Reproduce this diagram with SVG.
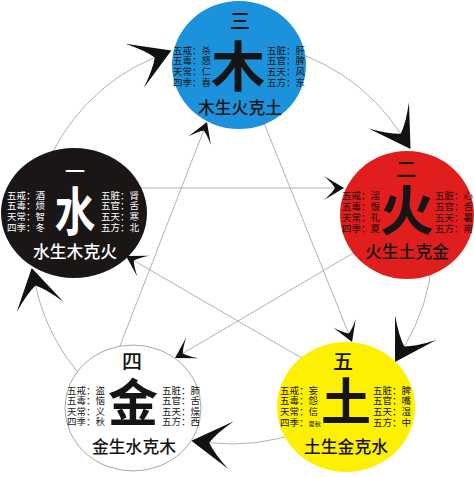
<svg xmlns="http://www.w3.org/2000/svg" width="474" height="477" viewBox="0 0 474 477">
<defs>
<style>
text { font-family: "Liberation Sans", "Noto Sans CJK SC", "Noto Sans CJK JP", sans-serif; }
.lbl { font-size: 9.5px; }
.num { font-size: 20px; font-weight: 500; text-anchor: middle; }
.big { font-weight: 700; text-anchor: middle; }
.cap { font-size: 16.8px; font-weight: 500; text-anchor: middle; }
.arc { fill: none; stroke: #a8a8a8; stroke-width: 0.9; marker-end: url(#ah); }
.ln { fill: none; stroke: #a8a8a8; stroke-width: 0.9; marker-end: url(#as); }
.dk { fill: #151515; }
.wt { fill: #ffffff; }
.fr { fill: #200808; }
.mt { fill: #222222; }
</style>
<marker id="ah" markerUnits="userSpaceOnUse" orient="auto" refX="0" refY="0" markerWidth="60" markerHeight="60" viewBox="-30 -30 60 60" overflow="visible">
<path d="M18,0 L-22,-24 Q-6,-10 0,0 Q-6,10 -22,24 Z" fill="#111"/>
</marker>
<marker id="as" markerUnits="userSpaceOnUse" orient="auto" refX="0" refY="0" markerWidth="30" markerHeight="30" viewBox="-15 -15 30 30" overflow="visible">
<path d="M9,0 L-11,-12 Q-3,-5 0,0 Q-3,5 -11,12 Z" fill="#111"/>
</marker>
</defs>
<rect width="474" height="477" fill="#ffffff"/>
<g id="connectors">
<path class="arc" d="M43.12,174.25 A201,201 0 0 1 154.76,57.43"/>
<path class="arc" d="M266.90,45.05 A201,201 0 0 1 400.76,133.82"/>
<path class="arc" d="M432.23,260.52 A201,201 0 0 1 404.29,346.52"/>
<path class="arc" d="M300.75,431.88 A201,201 0 0 1 209.25,442.71"/>
<path class="arc" d="M82.63,377.50 A201,201 0 0 1 35.54,285.48"/>
<path class="ln" d="M264,123 L348.7,333.6"/>
<path class="ln" d="M138,188 L335,188"/>
<path class="ln" d="M119.5,347 L203.7,130.4"/>
<path class="ln" d="M305,360 L133.8,260.5"/>
<path class="ln" d="M355,252 L182.8,353.4"/>
</g>
<g id="wood">
<ellipse cx="239" cy="65" rx="67" ry="64" fill="#1d92dc"/>
<text class="num dk" x="240" y="29">三</text>
<text class="big dk" x="238" y="86.5" font-size="54">木</text>
<text class="lbl dk" x="173" y="53.6"><tspan x="173">五戒：杀</tspan><tspan x="173" dy="10.7">五毒：怒</tspan><tspan x="173" dy="10.7">天常：仁</tspan><tspan x="173" dy="10.7">四季：春</tspan></text>
<text class="lbl dk" x="267" y="53.6"><tspan x="267">五脏：肝</tspan><tspan x="267" dy="10.7">五官：脾</tspan><tspan x="267" dy="10.7">五天：风</tspan><tspan x="267" dy="10.7">五方：东</tspan></text>
<text class="cap dk" x="240" y="113.5">木生火克土</text>
</g>
<g id="fire">
<ellipse cx="407" cy="215" rx="67" ry="64" fill="#e01e1e"/>
<text class="num dk" x="406" y="177">二</text>
<text class="big dk" x="407" y="231" font-size="54">火</text>
<text class="lbl fr" x="342" y="198.6"><tspan x="342">五戒：淫</tspan><tspan x="342" dy="11.2">五毒：恨</tspan><tspan x="342" dy="11.2">天常：礼</tspan><tspan x="342" dy="11.2">四季：夏</tspan></text>
<text class="lbl fr" x="435" y="198.6"><tspan x="435">五脏：心</tspan><tspan x="435" dy="11.2">五官：舌</tspan><tspan x="435" dy="11.2">五天：暑</tspan><tspan x="435" dy="11.2">五方：南</tspan></text>
<text class="cap dk" x="407" y="258">火生土克金</text>
</g>
<g id="earth">
<ellipse cx="346" cy="407" rx="69" ry="65" fill="#fdf002"/>
<text class="num dk" x="343" y="369">五</text>
<text class="big dk" x="346" y="420" font-size="50">土</text>
<text class="lbl dk" x="280" y="393.6"><tspan x="280">五戒：妄</tspan><tspan x="280" dy="10.7">五毒：怨</tspan><tspan x="280" dy="10.7">天常：信</tspan><tspan x="280" dy="10.7">四季：<tspan font-size="6.2">夏秋</tspan></tspan></text>
<text class="lbl dk" x="373" y="393.6"><tspan x="373">五脏：脾</tspan><tspan x="373" dy="10.7">五官：嘴</tspan><tspan x="373" dy="10.7">五天：湿</tspan><tspan x="373" dy="10.7">五方：中</tspan></text>
<text class="cap dk" x="346" y="453">土生金克水</text>
</g>
<g id="metal">
<ellipse cx="133" cy="408" rx="68" ry="63" fill="#ffffff" stroke="#a8a8a8" stroke-width="1"/>
<text class="num dk" x="132" y="369">四</text>
<text class="big dk" x="133" y="421" font-size="50">金</text>
<text class="lbl mt" x="67" y="393.6"><tspan x="67">五戒：盗</tspan><tspan x="67" dy="10.6">五毒：恼</tspan><tspan x="67" dy="10.6">天常：义</tspan><tspan x="67" dy="10.6">四季：秋</tspan></text>
<text class="lbl mt" x="162" y="393.6"><tspan x="162">五脏：肺</tspan><tspan x="162" dy="10.6">五官：舌</tspan><tspan x="162" dy="10.6">五天：燥</tspan><tspan x="162" dy="10.6">五方：西</tspan></text>
<text class="cap dk" x="134" y="453">金生水克木</text>
</g>
<g id="water">
<ellipse cx="74" cy="213" rx="73" ry="65" fill="#1a1616"/>
<text class="num wt" x="75" y="179">一</text>
<text class="big wt" font-size="52" font-weight="500" transform="translate(75,231) scale(0.78,1)" x="0" y="0">水</text>
<text class="lbl wt" x="7" y="198.6"><tspan x="7">五戒：酒</tspan><tspan x="7" dy="10.7">五毒：烦</tspan><tspan x="7" dy="10.7">天常：智</tspan><tspan x="7" dy="10.7">四季：冬</tspan></text>
<text class="lbl wt" x="101" y="198.6"><tspan x="101">五脏：肾</tspan><tspan x="101" dy="10.7">五官：舌</tspan><tspan x="101" dy="10.7">五天：寒</tspan><tspan x="101" dy="10.7">五方：北</tspan></text>
<text class="cap wt" x="75" y="258">水生木克火</text>
</g>
</svg>
